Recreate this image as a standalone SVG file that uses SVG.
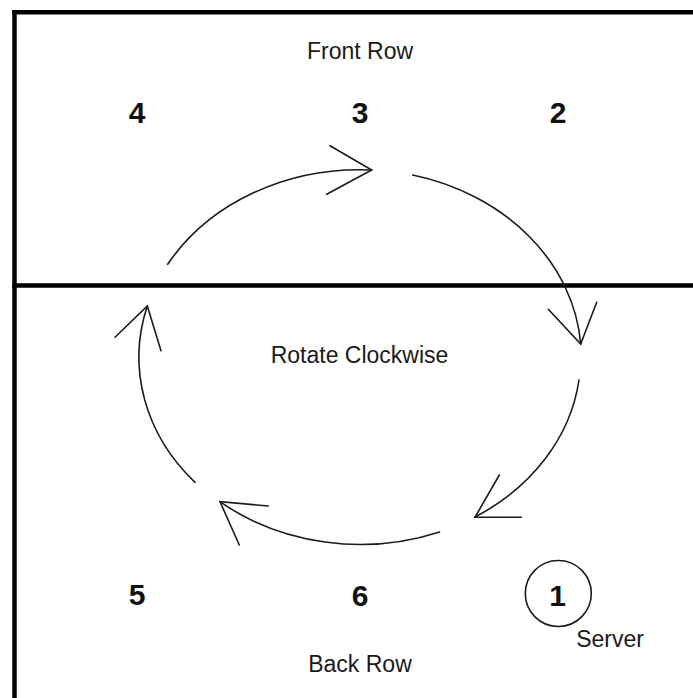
<svg xmlns="http://www.w3.org/2000/svg" width="693" height="698" viewBox="0 0 693 698">
<style>
.frame{stroke:#000;stroke-width:4.5;fill:none}
.arc{stroke:#1a1a1a;stroke-width:1.6;fill:none;stroke-linecap:round}
.head{stroke:#1a1a1a;stroke-width:1.6;fill:none;stroke-linejoin:miter;stroke-linecap:round}
.lbl{font-family:"Liberation Sans",Arial,sans-serif;font-size:23px;fill:#1a1a1a;text-anchor:middle}
.num{font-family:"Liberation Sans",Arial,sans-serif;font-size:30px;font-weight:bold;fill:#111;text-anchor:middle}
</style>
<rect width="693" height="698" fill="#fff"/>
<g id="court">
<line class="frame" x1="12.3" y1="12.3" x2="693" y2="12.3"/>
<line class="frame" x1="14.5" y1="10" x2="14.5" y2="698"/>
<line class="frame" x1="12.3" y1="285.5" x2="693" y2="285.5"/>
</g>
<g id="labels">
<text class="lbl" x="360" y="59">Front Row</text>
<text class="lbl" x="359.5" y="363">Rotate Clockwise</text>
<text class="lbl" x="360" y="671.5">Back Row</text>
</g>
<g id="pos4"><text class="num" x="137" y="123">4</text></g>
<g id="pos3"><text class="num" x="360" y="123">3</text></g>
<g id="pos2"><text class="num" x="558" y="123">2</text></g>
<g id="pos5"><text class="num" x="137" y="605">5</text></g>
<g id="pos6"><text class="num" x="360" y="606">6</text></g>
<g id="pos1">
<circle cx="558.3" cy="593.5" r="33" fill="none" stroke="#1a1a1a" stroke-width="1.6"/>
<text class="num" x="557.5" y="606">1</text>
<text class="lbl" x="610" y="646.5">Server</text>
</g>
<g id="connectors">
<path class="arc" d="M167.7,264.3 A221,188 0 0 1 371.7,170"/>
<polyline class="head" points="330,145.7 371.7,170 326.7,194.3"/>
<path class="arc" d="M412.7,175 A221,188 0 0 1 580.7,344"/>
<polyline class="head" points="548.3,309.3 580.7,344 596.7,302.3"/>
<path class="arc" d="M579,380 A221,188 0 0 1 475,517"/>
<polyline class="head" points="499.3,475 475,517.3 521.4,517.3"/>
<path class="arc" d="M439.5,532 A221,188 0 0 1 220,501.7"/>
<polyline class="head" points="268.3,506 220,501.7 239.3,545"/>
<path class="arc" d="M195,482.3 A221,188 0 0 1 147.3,306"/>
<polyline class="head" points="115,337.3 147.3,306 161,350.7"/>
</g>
</svg>
